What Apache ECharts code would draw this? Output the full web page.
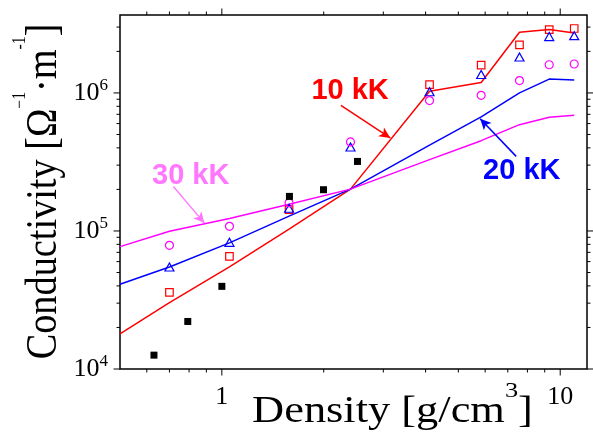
<!DOCTYPE html>
<html>
<head>
<meta charset="utf-8">
<script src="https://cdn.jsdelivr.net/npm/echarts@6/dist/echarts.min.js"></script>
<style>
html,body{margin:0;padding:0;background:#fff;}
#chart{width:593px;height:433px;}
</style>
</head>
<body>
<div id="chart"></div>
<script>
// ---------------- data ----------------
const lineX   = [0.5, 0.70, 1.053, 1.58, 2.40, 4.11, 5.84, 7.58, 9.28, 11.0];
const line10kK = [1.80e4, 3.03e4, 5.5e4, 1.03e5, 2.01e5, 1.03e6, 1.19e6, 2.75e6, 2.88e6, 2.72e6];
const line20kK = [4.11e4, 5.48e4, 8.2e4, 1.28e5, 2.01e5, 4.19e5, 6.70e5, 1.00e6, 1.26e6, 1.24e6];
const line30kK = [7.70e4, 9.94e4, 1.23e5, 1.56e5, 2.01e5, 3.29e5, 4.51e5, 5.89e5, 6.66e5, 6.88e5];

const markerX  = [0.70, 1.053, 1.58, 2.40, 4.11, 5.84, 7.58, 9.28, 11.0];
const sq10kK   = [3.59e4, 6.55e4, 1.43e5, null, 1.15e6, 1.59e6, 2.23e6, 2.88e6, 2.93e6];
const tri20kK  = [5.48e4, 8.27e4, 1.46e5, 4.06e5, 1.02e6, 1.36e6, 1.82e6, 2.56e6, 2.60e6];
const circ30kK = [7.87e4, 1.08e5, 1.60e5, 4.42e5, 8.80e5, 9.61e5, 1.23e6, 1.60e6, 1.62e6];

const expX = [0.63, 0.793, 1.0, 1.584, 1.997, 2.517];
const expY = [1.26e4, 2.21e4, 3.97e4, 1.78e5, 1.99e5, 3.19e5];

const xMajorTicks = [1, 10];
const xMinorTicks = [0.6, 0.7, 0.8, 0.9, 2, 3, 4, 5, 6, 7, 8, 9];
const yMajorTicks = [1e4, 1e5, 1e6];
const yMinorTicks = [2e4,3e4,4e4,5e4,6e4,7e4,8e4,9e4,2e5,3e5,4e5,5e5,6e5,7e5,8e5,9e5,2e6,3e6];

const annoLabels = ['10 kK', '20 kK', '30 kK'];
const annoAt     = [[2.393, 1.03e6], [7.70, 2.73e5], [0.809, 2.49e5]];
const arrowFrom  = [[2.248, 8.13e5], [7.41, 3.47e5], [0.719, 2.10e5]];
const arrowTo    = [[3.145, 4.72e5], [5.80, 6.51e5], [0.888, 1.14e5]];

const xMin = 0.5, xMax = 12, yMin = 1e4, yMax = 3.67e6;

// ---------------- styles ----------------
const SERIF = "'Liberation Serif','Times New Roman',serif";
const SANS = "'Liberation Sans',Arial,sans-serif";
const cRed = '#ff0000', cBlue = '#0000ff', cMag = '#ff00ff', cPink = '#ff77ff';

function isPow10(v){ const e = Math.log10(v); return Math.abs(e - Math.round(e)) < 1e-6; }

const chart = echarts.init(document.getElementById('chart'), null, {renderer:'canvas'});

function pairs(xs, ys){ const out=[]; xs.forEach((x,i)=>{ if(ys[i]!=null) out.push([x, ys[i]]); }); return out; }

function arrowLine(i, color, width){
  return {
    silent: true, animation: false,
    symbol: ['none', 'arrow'], symbolSize: [8, 11],
    label: {show: false},
    lineStyle: {color: color, width: width, type: 'solid', opacity: 1},
    itemStyle: {color: color, opacity: 1},
    emphasis: {disabled: true},
    data: [[{coord: arrowFrom[i]}, {coord: arrowTo[i]}]]
  };
}

const option = {
  animation: false,
  backgroundColor: '#fff',
  grid: {left: 120, top: 15, width: 467, height: 354, show: true, borderColor: '#000', borderWidth: 1.5, containLabel: false},
  xAxis: {
    type: 'log', logBase: 10, min: xMin, max: xMax,
    axisLine: {show: false}, axisTick: {show: false}, splitLine: {show: false}, minorTick:{show:false},
    axisLabel: {
      margin: 15, color: '#000', fontFamily: SERIF, fontSize: 26,
      showMinLabel: false, showMaxLabel: false,
      formatter: v => isPow10(v) ? String(Math.round(v)) : ''
    }
  },
  yAxis: {
    type: 'log', logBase: 10, min: yMin, max: yMax,
    axisLine: {show: false}, axisTick: {show: false}, splitLine: {show: false}, minorTick:{show:false},
    axisLabel: {
      margin: 12, color: '#000', fontFamily: SERIF, fontSize: 26,
      showMaxLabel: false,
      formatter: v => isPow10(v) ? '{b|10}{s|' + Math.round(Math.log10(v)) + '}' : '',
      rich: {
        b: {fontFamily: SERIF, fontSize: 26, lineHeight: 32, color: '#000'},
        s: {fontFamily: SERIF, fontSize: 17, lineHeight: 17, verticalAlign: 'top', color: '#000'}
      }
    }
  },
  series: [
    {type: 'custom', clip: false, silent: true, z: 10,
     data: [[1, 1e5]],
     renderItem: function(params, api){
       const c0 = api.coord([xMin, yMin]), c1 = api.coord([xMax, yMax]);
       const L = c0[0], B = c0[1], R = c1[0], T = c1[1];
       const ch = [];
       const st = {stroke: '#000', lineWidth: 1};
       function xt(v, len){ const p = api.coord([v, yMin])[0];
         ch.push({type:'line', shape:{x1:p, y1:B, x2:p, y2:B+len}, style:st});
         ch.push({type:'line', shape:{x1:p, y1:T, x2:p, y2:T-len}, style:st}); }
       function yt(v, len){ const p = api.coord([xMin, v])[1];
         ch.push({type:'line', shape:{x1:L, y1:p, x2:L-len, y2:p}, style:st});
         ch.push({type:'line', shape:{x1:R, y1:p, x2:R+len, y2:p}, style:st}); }
       xMajorTicks.forEach(v => xt(v, 6.5));
       xMinorTicks.forEach(v => xt(v, 3.5));
       yMajorTicks.forEach(v => yt(v, 6.5));
       yMinorTicks.forEach(v => yt(v, 3.5));
       return {type: 'group', children: ch};
     }
    },
    {type: 'line', name: '10 kK line', data: pairs(lineX, line10kK), symbol: 'none',
     lineStyle: {color: cRed, width: 1.5}, z: 2, markLine: arrowLine(0, cRed, 1.5)},
    {type: 'line', name: '20 kK line', data: pairs(lineX, line20kK), symbol: 'none',
     lineStyle: {color: cBlue, width: 1.5}, z: 2, markLine: arrowLine(1, cBlue, 1.5)},
    {type: 'line', name: '30 kK line', data: pairs(lineX, line30kK), symbol: 'none',
     lineStyle: {color: cMag, width: 1.5}, z: 2, markLine: arrowLine(2, cPink, 1.3)},
    {type: 'scatter', name: '10 kK pts', data: pairs(markerX, sq10kK), symbol: 'rect', symbolSize: 7.5,
     itemStyle: {color: 'rgba(0,0,0,0)', borderColor: cRed, borderWidth: 1.2, opacity: 1}, z: 3},
    {type: 'scatter', name: '20 kK pts', data: pairs(markerX, tri20kK), symbol: 'triangle', symbolSize: [9, 8],
     itemStyle: {color: 'rgba(0,0,0,0)', borderColor: cBlue, borderWidth: 1.2, opacity: 1}, z: 3},
    {type: 'scatter', name: '30 kK pts', data: pairs(markerX, circ30kK), symbol: 'circle', symbolSize: 8,
     itemStyle: {color: 'rgba(0,0,0,0)', borderColor: cMag, borderWidth: 1.2, opacity: 1}, z: 3},
    {type: 'scatter', name: 'experiment', data: pairs(expX, expY), symbol: 'rect', symbolSize: 7,
     itemStyle: {color: '#000', opacity: 1}, z: 4},
    {type: 'scatter', name: 'annotations', silent: true, z: 5,
     data: annoAt.map((p, i) => ({value: p, label: {color: [cRed, cBlue, cPink][i]}})),
     symbol: 'circle', symbolSize: 1, itemStyle: {color: 'rgba(0,0,0,0)', opacity: 1},
     label: {show: true, position: 'inside', fontFamily: SANS, fontWeight: 'bold', fontSize: 29,
       opacity: 1, textBorderWidth: 0, formatter: p => annoLabels[p.dataIndex]}
    }
  ],
  graphic: [
    {type: 'text', x: 392.5, y: 412.3, scaleX: 1.2, silent: true,
     style: {text: '{m|Density [g/cm}{s|3}{m|]}', align: 'center', verticalAlign: 'middle',
       rich: {m: {fontFamily: SERIF, fontSize: 37, lineHeight: 64, fill: '#000'},
              s: {fontFamily: SERIF, fontSize: 22, lineHeight: 22, verticalAlign: 'top', fill: '#000'}}}},
    {type: 'text', x: 44.5, y: 191.5, rotation: Math.PI / 2, scaleX: 0.87, silent: true,
     style: {text: '{m|Conductivity [Ω}{s|−1}{m|·m}{s|-1}{m|]}', align: 'center', verticalAlign: 'middle',
       rich: {m: {fontFamily: SERIF, fontSize: 44, lineHeight: 66, fill: '#000'},
              s: {fontFamily: SERIF, fontSize: 18, lineHeight: 18, verticalAlign: 'top', fill: '#000'}}}}
  ]
};
chart.setOption(option);
</script>
</body>
</html>
